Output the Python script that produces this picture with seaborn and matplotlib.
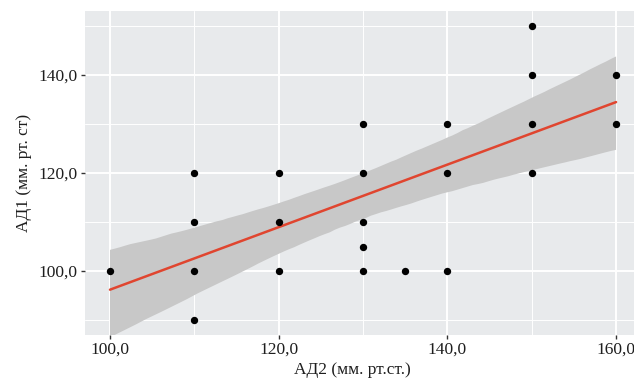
import matplotlib
matplotlib.use("Agg")
import matplotlib.pyplot as plt
import matplotlib.ticker as mticker
from matplotlib.collections import PolyCollection
import seaborn as sns
import pandas as pd

# Data
ad2 = [100,
       110, 110, 110, 110,
       120, 120, 120,
       130, 130, 130, 130, 130,
       135,
       140, 140, 140,
       150, 150, 150, 150,
       160, 160]
ad1 = [100,
       120, 110, 100, 90,
       120, 110, 100,
       130, 120, 110, 105, 100,
       100,
       130, 120, 100,
       150, 140, 130, 120,
       140, 130]
x_ticks = [100, 120, 140, 160]
y_ticks = [100, 120, 140]
x_label = "АД2 (мм. рт.ст.)"
y_label = "АД1 (мм. рт. ст)"

df = pd.DataFrame({"ad2": ad2, "ad1": ad1})

sns.set_theme(style="darkgrid")
plt.rcParams["font.family"] = ["Liberation Serif", "DejaVu Serif"]

fig = plt.figure(figsize=(6.34, 3.85), dpi=100)
ax = fig.add_axes([0.1336, 0.1306, 0.878, 0.840])
ax.set_facecolor("#E8EAEC")

sns.regplot(data=df, x="ad2", y="ad1", ax=ax, ci=95, truncate=True,
            scatter_kws=dict(color="black", s=28, linewidths=0, alpha=1, zorder=4),
            line_kws=dict(color="#E0452F", lw=1.8, zorder=3))

for c in ax.collections:
    if isinstance(c, PolyCollection):
        c.set_alpha(None)
        c.set_facecolor("#C8C8C8")
        c.set_edgecolor("none")
        c.set_zorder(2)

ax.set_xlim(97, 163)
ax.set_ylim(87, 153)
ax.set_xticks(x_ticks)
ax.set_yticks(y_ticks)
ax.xaxis.set_minor_locator(mticker.FixedLocator([110, 130, 150]))
ax.yaxis.set_minor_locator(mticker.FixedLocator([90, 110, 130, 150]))
fmt = mticker.FuncFormatter(lambda v, p: f"{v:.1f}".replace(".", ","))
ax.xaxis.set_major_formatter(fmt)
ax.yaxis.set_major_formatter(fmt)

ax.grid(which="major", color="white", lw=1.4)
ax.grid(which="minor", color="white", lw=0.7)
ax.set_axisbelow(True)
for s in ax.spines.values():
    s.set_visible(False)

ax.tick_params(which="major", length=3, width=1, color="#333333",
               labelsize=12.5, labelcolor="#1e1e1e", pad=2, direction="out",
               bottom=True, left=True)
ax.tick_params(which="minor", length=0)

ax.set_xlabel(x_label, fontsize=12.5, color="#1e1e1e", labelpad=3)
ax.set_ylabel(y_label, fontsize=12.5, color="#1e1e1e", labelpad=5)
ax.xaxis.set_label_coords(0.48, -0.085)

fig.savefig("out.png", dpi=100)
